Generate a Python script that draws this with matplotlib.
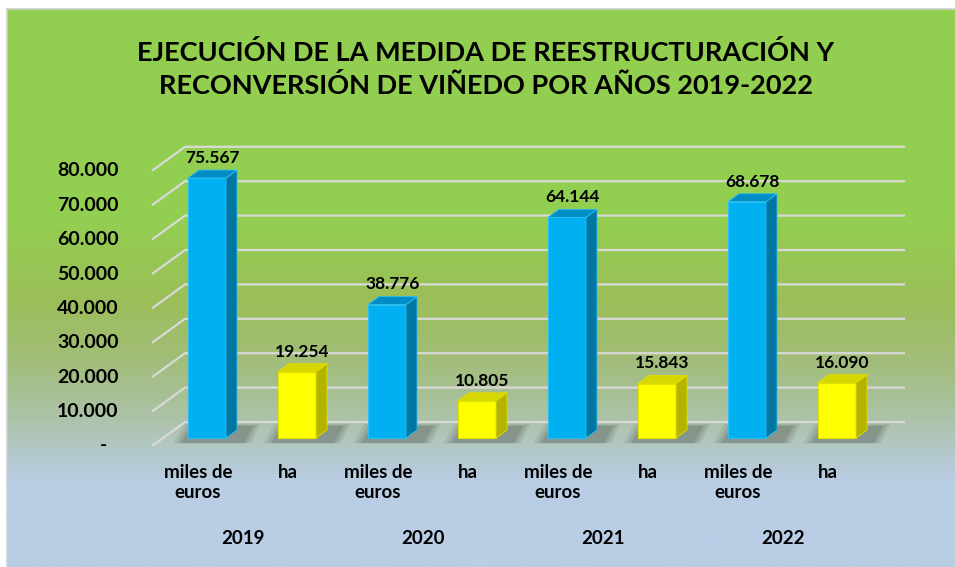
import matplotlib
matplotlib.use('Agg')
import matplotlib.pyplot as plt
import numpy as np
from matplotlib.patches import Polygon
from matplotlib.colors import LinearSegmentedColormap

# datos
anios = ['2019', '2020', '2021', '2022']
categorias = ['miles de\neuros', 'ha'] * 4
valores = [75567, 19254, 38776, 10805, 64144, 15843, 68678, 16090]
ticks = [0, 10000, 20000, 30000, 40000, 50000, 60000, 70000, 80000]
titulo = 'EJECUCIÓN DE LA MEDIDA DE REESTRUCTURACIÓN Y\nRECONVERSIÓN DE VIÑEDO POR AÑOS 2019-2022'


def fmt(v):
    # formato espanol, '-' para cero
    if v == 0:
        return '-'
    return f'{v:,}'.replace(',', '.')


plt.rcParams['font.family'] = ['Lato', 'DejaVu Sans']
W, H = 955, 567
fig = plt.figure(figsize=(W / 100, H / 100), dpi=100)

# fondo degradado verde -> azul
bg = fig.add_axes([7 / W, 0, 1 - 7 / W, (H - 9) / H])
stops = [(0.0, '#92D050'), (0.38, '#93CE51'), (0.52, '#9BBF58'), (0.62, '#A1BD76'),
         (0.70, '#A8C098'), (0.76, '#B0C5B6'), (0.81, '#B5CAD2'), (0.85, '#B9CDE5'),
         (1.0, '#B9CDE5')]
cmap = LinearSegmentedColormap.from_list('fondo', stops)
grad = np.linspace(0, 1, 512).reshape(-1, 1)
bg.imshow(grad, aspect='auto', cmap=cmap, extent=[0, 1, 0, 1], origin='upper')
bg.set_xticks([])
bg.set_yticks([])
for s in ['right', 'bottom']:
    bg.spines[s].set_visible(False)
for s in ['left', 'top']:
    bg.spines[s].set_color('#D0D0D0')
    bg.spines[s].set_linewidth(1.2)

# ejes de datos: 1 categoria = 90 px, 1000 = 3.44 px
px_x, px_y = 90.0, 3.44 / 1000
x0_px, y0_px = 207, 438
xlim = (-0.9, 7.9)
ylim = (-10000, 92000)
left = x0_px + xlim[0] * px_x
right = x0_px + xlim[1] * px_x
top = y0_px - ylim[1] * px_y
bottom = y0_px - ylim[0] * px_y
ax = fig.add_axes([left / W, (H - bottom) / H, (right - left) / W, (bottom - top) / H])
ax.set_xlim(xlim)
ax.set_ylim(ylim)
ax.axis('off')

# profundidad 3D en unidades de datos
fx, fy = -11 / px_x, -8 / px_y        # plano frontal
bx, by = 22 / px_x, 16 / px_y         # pared trasera
ddx, ddy = 11 / px_x, 8 / px_y        # lado de la barra
wb = 38 / px_x
x_fin = (905 - x0_px) / px_x
x_ini = (163 - x0_px) / px_x

# rejilla
for t in ticks:
    ax.plot([x_ini + fx, x_ini + bx, x_fin], [t + fy, t + by, t + by],
            color='#D9D9D9', lw=1.6, zorder=1, solid_capstyle='butt')
    ax.text(x_ini + fx - 0.37 if t else x_ini + fx - 0.5, t + fy, fmt(t),
            ha='right', va='center', fontsize=14, fontweight='bold', clip_on=False)

x = np.arange(len(valores))
colores = [('#00B0F0', '#0077A3', '#008CC4', '#2BC0F5'),
           ('#FFFF00', '#B3B300', '#D6D600', '#E0E000')]

# sombras en el suelo
for xi in x:
    for k, a in enumerate([0.10, 0.13, 0.18]):
        e = (2 - k) * 0.04
        sx0 = xi - wb / 2 - 0.08 - e
        sx1 = xi + wb / 2 + ddx + 0.18 + e
        ax.add_patch(Polygon([(sx0, -1500), (sx1 - 0.1, -1500), (sx1, 3500 + e * 8000),
                              (sx0 + 0.12, 3500 + e * 8000)],
                             closed=True, facecolor='#404040', edgecolor='none',
                             alpha=a, zorder=2))

for xi, v in zip(x, valores):
    c_front, c_side, c_top, c_edge = colores[xi % 2]
    ax.bar(xi, v, width=wb, color=c_front, edgecolor=c_edge, linewidth=0.8, zorder=3)
    xr = xi + wb / 2
    xl = xi - wb / 2
    ax.add_patch(Polygon([(xr, 0), (xr + ddx, ddy), (xr + ddx, v + ddy), (xr, v)],
                         closed=True, facecolor=c_side, edgecolor=c_edge, lw=0.6, zorder=3))
    ax.add_patch(Polygon([(xl, v), (xr, v), (xr + ddx, v + ddy), (xl + ddx, v + ddy)],
                         closed=True, facecolor=c_top, edgecolor=c_edge, lw=0.6, zorder=3))
    ax.text(xi + ddx / 2, v + ddy + 1200, fmt(v), ha='center', va='bottom',
            fontsize=12.5, fontweight='bold', zorder=4)

# etiquetas de categoria y anio
for xi, cat in zip(x, categorias):
    ax.text(xi - 0.1, (y0_px - 464) / px_y, cat, ha='center', va='top',
            fontsize=13.5, fontweight='bold', linespacing=1.2, clip_on=False)
for i, a in enumerate(anios):
    ax.text(2 * i + 0.5 - 0.1, (y0_px - 538) / px_y, a, ha='center', va='center',
            fontsize=13.5, fontweight='bold', clip_on=False)

fig.text(486 / W, 1 - 69 / H, titulo, ha='center', va='center',
         fontsize=19.5, fontweight='bold', linespacing=1.42)

fig.savefig('out.png', dpi=100)
